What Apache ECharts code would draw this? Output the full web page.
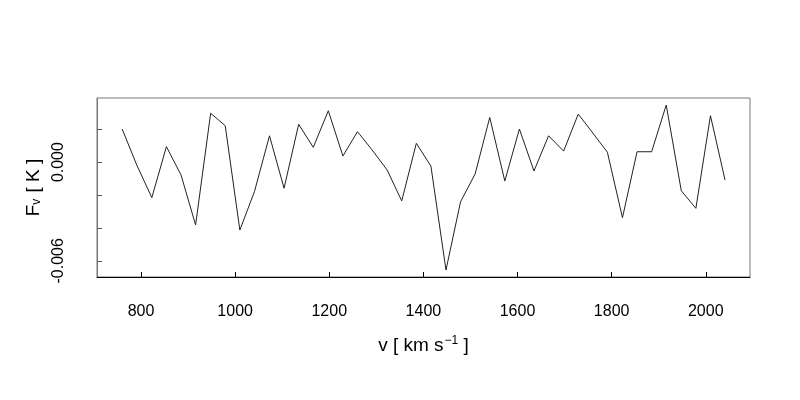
<!DOCTYPE html>
<html>
<head>
<meta charset="utf-8">
<script src="https://cdn.jsdelivr.net/npm/echarts@6/dist/echarts.min.js"></script>
<style>html,body{margin:0;padding:0;background:#fff}#c{width:800px;height:400px}</style>
</head>
<body>
<div id="c"></div>
<script>
var velocity = [760, 791, 823, 854, 885, 916, 948, 979, 1010, 1041, 1073, 1104, 1135, 1166,
  1198, 1229, 1260, 1291, 1323, 1354, 1385, 1416, 1448, 1479, 1510, 1541, 1573, 1604,
  1635, 1666, 1698, 1729, 1760, 1791, 1823, 1854, 1885, 1916, 1948, 1979, 2010, 2041];
var flux = [0.00201, -0.00018, -0.00216, 0.00094, -0.00078, -0.00382, 0.00297, 0.00221,
  -0.00413, -0.00180, 0.00160, -0.00159, 0.00230, 0.00090, 0.00312, 0.00037, 0.00185,
  0.00074, -0.00048, -0.00236, 0.00114, -0.00024, -0.00656, -0.00241, -0.00072, 0.00272,
  -0.00115, 0.00201, -0.00054, 0.00160, 0.00067, 0.00292, 0.00177, 0.00060, -0.00338,
  0.00063, 0.00063, 0.00347, -0.00174, -0.00281, 0.00282, -0.00109];
var xTicks = [800, 1000, 1200, 1400, 1600, 1800, 2000];
var yTicks = [-0.006, -0.004, -0.002, 0.000, 0.002];
var yLabels = [-0.006, 0.000];

var data = velocity.map(function (v, i) { return [v, flux[i]]; });
var font = "'Liberation Sans', Arial, sans-serif";
var chart = echarts.init(document.getElementById('c'));
chart.setOption({
  animation: false,
  backgroundColor: '#fff',
  grid: { left: 97, top: 98, right: 50, bottom: 123, show: true, borderColor: '#777', borderWidth: 1 },
  xAxis: {
    type: 'value', min: 706.5, max: 2094,
    name: '{a|v [ km s}{s|−1}{a| ]}',
    nameLocation: 'middle', nameGap: 58,
    nameTextStyle: { rich: {
      a: { fontSize: 19, fontFamily: font, color: '#000' },
      s: { fontSize: 12, fontFamily: font, color: '#000', verticalAlign: 'top', padding: [0, 0, 9, 1] }
    } },
    splitLine: { show: false },
    axisLine: { show: true, onZero: false, lineStyle: { color: '#000', width: 1 } },
    axisTick: { show: true, inside: true, length: 5, customValues: xTicks, lineStyle: { color: '#000' } },
    axisLabel: {
      customValues: xTicks, fontSize: 16, fontFamily: font, color: '#000', margin: 27,
      formatter: function (v) { return String(v); }
    }
  },
  yAxis: {
    type: 'value', min: -0.006985, max: 0.003897,
    name: '{a|F}{s|v}{a| [ K ]}',
    nameLocation: 'middle', nameGap: 50,
    nameTextStyle: { rich: {
      a: { fontSize: 19, fontFamily: font, color: '#000' },
      s: { fontSize: 12, fontFamily: font, color: '#000', verticalAlign: 'bottom', padding: [7, 1, 0, 0] }
    } },
    splitLine: { show: false },
    axisLine: { show: true, onZero: false, lineStyle: { color: '#777', width: 1 } },
    axisTick: { show: true, inside: true, length: 5, customValues: yTicks, lineStyle: { color: '#555' } },
    axisLabel: {
      customValues: yLabels, rotate: 90, fontSize: 16, fontFamily: font, color: '#000', margin: 30,
      formatter: function (v) { return v.toFixed(3); }
    }
  },
  series: [{
    type: 'line', data: data, symbol: 'none',
    lineStyle: { color: '#222', width: 1 }
  }]
});
</script>
</body>
</html>
